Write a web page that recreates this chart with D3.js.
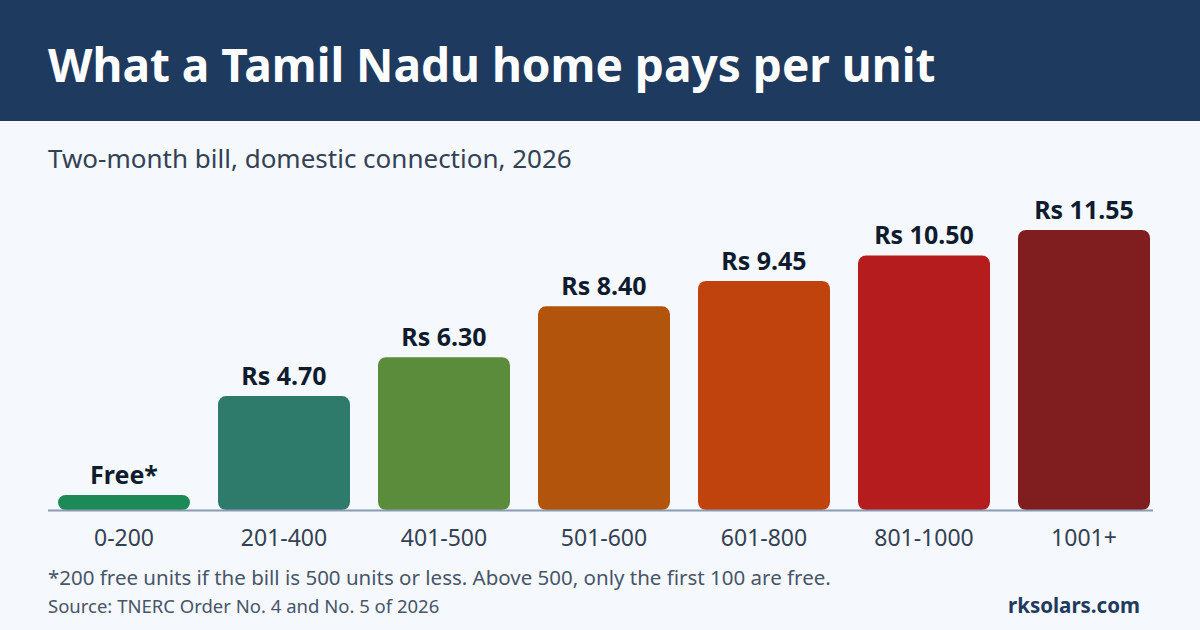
<!DOCTYPE html>
<html>
<head>
<meta charset="utf-8">
<script src="https://cdn.jsdelivr.net/npm/d3@7"></script>
<style>
  html, body { margin:0; padding:0; background:#f5f8fc; }
  svg { display:block; font-family:"Noto Sans", "Open Sans", sans-serif; }
</style>
</head>
<body>
<div id="chart"></div>
<script>
// data: rate per unit (Rs), two-month bill slabs
const slabs  = ["0-200","201-400","401-500","501-600","601-800","801-1000","1001+"];
const rates  = [0, 4.70, 6.30, 8.40, 9.45, 10.50, 11.55];
const labels = ["Free*","Rs 4.70","Rs 6.30","Rs 8.40","Rs 9.45","Rs 10.50","Rs 11.55"];
const colors = ["#1b8a56","#2e7b6b","#5b8c3b","#b3540c","#c0430e","#b51c1d","#7f1d1f"];

const W = 1200, H = 630;
const svg = d3.select('#chart').append('svg')
  .attr('width', W).attr('height', H);

svg.append('rect').attr('width', W).attr('height', H).attr('fill', '#f5f8fc');

// header
svg.append('rect').attr('width', W).attr('height', 121).attr('fill', '#1f3a5f');
svg.append('text').attr('x', 48).attr('y', 82)
  .attr('fill', '#fff').attr('font-size', 46).attr('font-weight', 700)
  .text('What a Tamil Nadu home pays per unit');

svg.append('text').attr('x', 48).attr('y', 168)
  .attr('fill', '#334155').attr('font-size', 26)
  .text('Two-month bill, domestic connection, 2026');

// scales
const base = 510;
const x = d3.scaleBand().domain(slabs).range([44, 1164])
  .paddingInner(0.175).paddingOuter(0.0875);
const y = d3.scaleLinear().domain([0, d3.max(rates)]).range([base, 230]);
const minH = 15;

const rows = slabs.map((s, i) => ({slab:s, rate:rates[i], label:labels[i], color:colors[i]}));
const barTop = d => Math.min(y(d.rate), base - minH);

// bars
svg.append('g').selectAll('rect')
  .data(rows).enter().append('rect')
    .attr('x', d => x(d.slab))
    .attr('y', d => barTop(d))
    .attr('width', x.bandwidth())
    .attr('height', d => base - barTop(d))
    .attr('rx', d => d.rate === 0 ? 7.5 : 8)
    .attr('fill', d => d.color);

// axis line
svg.append('line').attr('x1', 48).attr('x2', 1153)
  .attr('y1', base + 0.5).attr('y2', base + 0.5)
  .attr('stroke', '#8c9bb0').attr('stroke-width', 2);

// value labels
svg.append('g').selectAll('text')
  .data(rows).enter().append('text')
    .attr('x', d => x(d.slab) + x.bandwidth() / 2)
    .attr('y', d => barTop(d) - 11)
    .attr('text-anchor', 'middle')
    .attr('font-size', 25).attr('font-weight', 700)
    .attr('fill', '#0f1b2e')
    .text(d => d.label);

// category labels
const xAxis = svg.append('g').attr('transform', `translate(0,${base})`)
  .call(d3.axisBottom(x).tickSize(0).tickPadding(0));
xAxis.select('.domain').remove();
xAxis.selectAll('text')
  .attr('y', 36).attr('dy', 0)
  .attr('font-size', 23).attr('font-family', '"Noto Sans", sans-serif')
  .attr('fill', '#334155');

// footer
svg.append('text').attr('x', 48).attr('y', 585)
  .attr('fill', '#475569').attr('font-size', 20.5)
  .text('*200 free units if the bill is 500 units or less. Above 500, only the first 100 are free.');
svg.append('text').attr('x', 48).attr('y', 613)
  .attr('fill', '#475569').attr('font-size', 18.5)
  .text('Source: TNERC Order No. 4 and No. 5 of 2026');
svg.append('text').attr('x', 1140).attr('y', 613)
  .attr('text-anchor', 'end')
  .attr('fill', '#1f3a5f').attr('font-size', 20.5).attr('font-weight', 700)
  .text('rksolars.com');
</script>
</body>
</html>
